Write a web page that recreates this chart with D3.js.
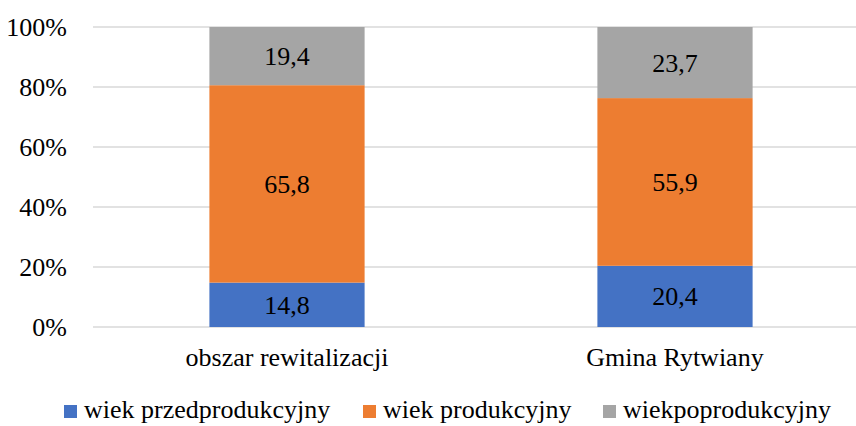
<!DOCTYPE html>
<html>
<head>
<meta charset="utf-8">
<script src="https://cdn.jsdelivr.net/npm/d3@7"></script>
</head>
<body style="margin:0">
<svg id="chart" width="856" height="426"></svg>
<script>
var categories = ["obszar rewitalizacji", "Gmina Rytwiany"];
var seriesNames = ["wiek przedprodukcyjny", "wiek produkcyjny", "wiekpoprodukcyjny"];
var przedprodukcyjny = [14.8, 20.4];
var produkcyjny = [65.8, 55.9];
var poprodukcyjny = [19.4, 23.7];
var yTicks = [0, 20, 40, 60, 80, 100];
var colors = ["#4472C4", "#ED7D31", "#A5A5A5"];

var rows = categories.map(function(c, i){
    return {cat: c, s0: przedprodukcyjny[i], s1: produkcyjny[i], s2: poprodukcyjny[i]};
});
var stack = d3.stack().keys(["s0", "s1", "s2"])(rows);

var FONT = "Liberation Serif";
var FS = "26px";

var svg = d3.select("#chart");

var x = d3.scaleBand()
    .domain(categories)
    .range([93, 869])
    .paddingInner(0.6)
    .paddingOuter(0.3);

var y = d3.scaleLinear()
    .domain([0, 100])
    .range([327, 27]);

// gridlines
svg.append("g").selectAll("line")
    .data(yTicks)
    .enter()
    .append("line")
    .attr("x1", 93)
    .attr("x2", 869)
    .attr("y1", function(d){ return y(d); })
    .attr("y2", function(d){ return y(d); })
    .style("stroke", "#D9D9D9")
    .style("stroke-width", 1.3);

// y labels
svg.selectAll(".ylab")
    .data(yTicks)
    .enter()
    .append("text")
    .attr("class", "ylab")
    .attr("x", 67)
    .attr("y", function(d){ return y(d) + 9; })
    .attr("text-anchor", "end")
    .style("font-family", FONT)
    .style("font-size", FS)
    .text(function(d){ return d + "%"; });

// bars
var layers = svg.append("g").selectAll(".layer")
    .data(stack)
    .enter()
    .append("g")
    .attr("class", "layer")
    .style("fill", function(d, i){ return colors[i]; });

layers.selectAll("rect")
    .data(function(d){ return d; })
    .enter()
    .append("rect")
    .attr("x", function(d){ return x(d.data.cat); })
    .attr("width", x.bandwidth())
    .attr("y", function(d){ return y(d[1]); })
    .attr("height", function(d){ return y(d[0]) - y(d[1]); });

var segs = [];
stack.forEach(function(layer){ layer.forEach(function(d){ segs.push(d); }); });

svg.selectAll(".val")
    .data(segs)
    .enter()
    .append("text")
    .attr("class", "val")
    .attr("x", function(d){ return x(d.data.cat) + x.bandwidth() / 2; })
    .attr("y", function(d){ return y((d[0] + d[1]) / 2) + 9; })
    .attr("text-anchor", "middle")
    .style("font-family", FONT)
    .style("font-size", FS)
    .text(function(d){ return d3.format(".1f")(d[1] - d[0]).replace(".", ","); });

// category labels
svg.selectAll(".cat")
    .data(categories)
    .enter()
    .append("text")
    .attr("class", "cat")
    .attr("x", function(d){ return x(d) + x.bandwidth() / 2; })
    .attr("y", 366)
    .attr("text-anchor", "middle")
    .style("font-family", FONT)
    .style("font-size", FS)
    .text(function(d){ return d; });

// legend
var legendX = [64, 363, 603];
svg.selectAll(".legbox")
    .data(seriesNames)
    .enter()
    .append("rect")
    .attr("class", "legbox")
    .attr("x", function(d, i){ return legendX[i]; })
    .attr("y", 405)
    .attr("width", 13)
    .attr("height", 13)
    .style("fill", function(d, i){ return colors[i]; });

svg.selectAll(".legtext")
    .data(seriesNames)
    .enter()
    .append("text")
    .attr("class", "legtext")
    .attr("x", function(d, i){ return legendX[i] + 20; })
    .attr("y", 418)
    .style("font-family", FONT)
    .style("font-size", FS)
    .text(function(d){ return d; });
</script>
</body>
</html>
